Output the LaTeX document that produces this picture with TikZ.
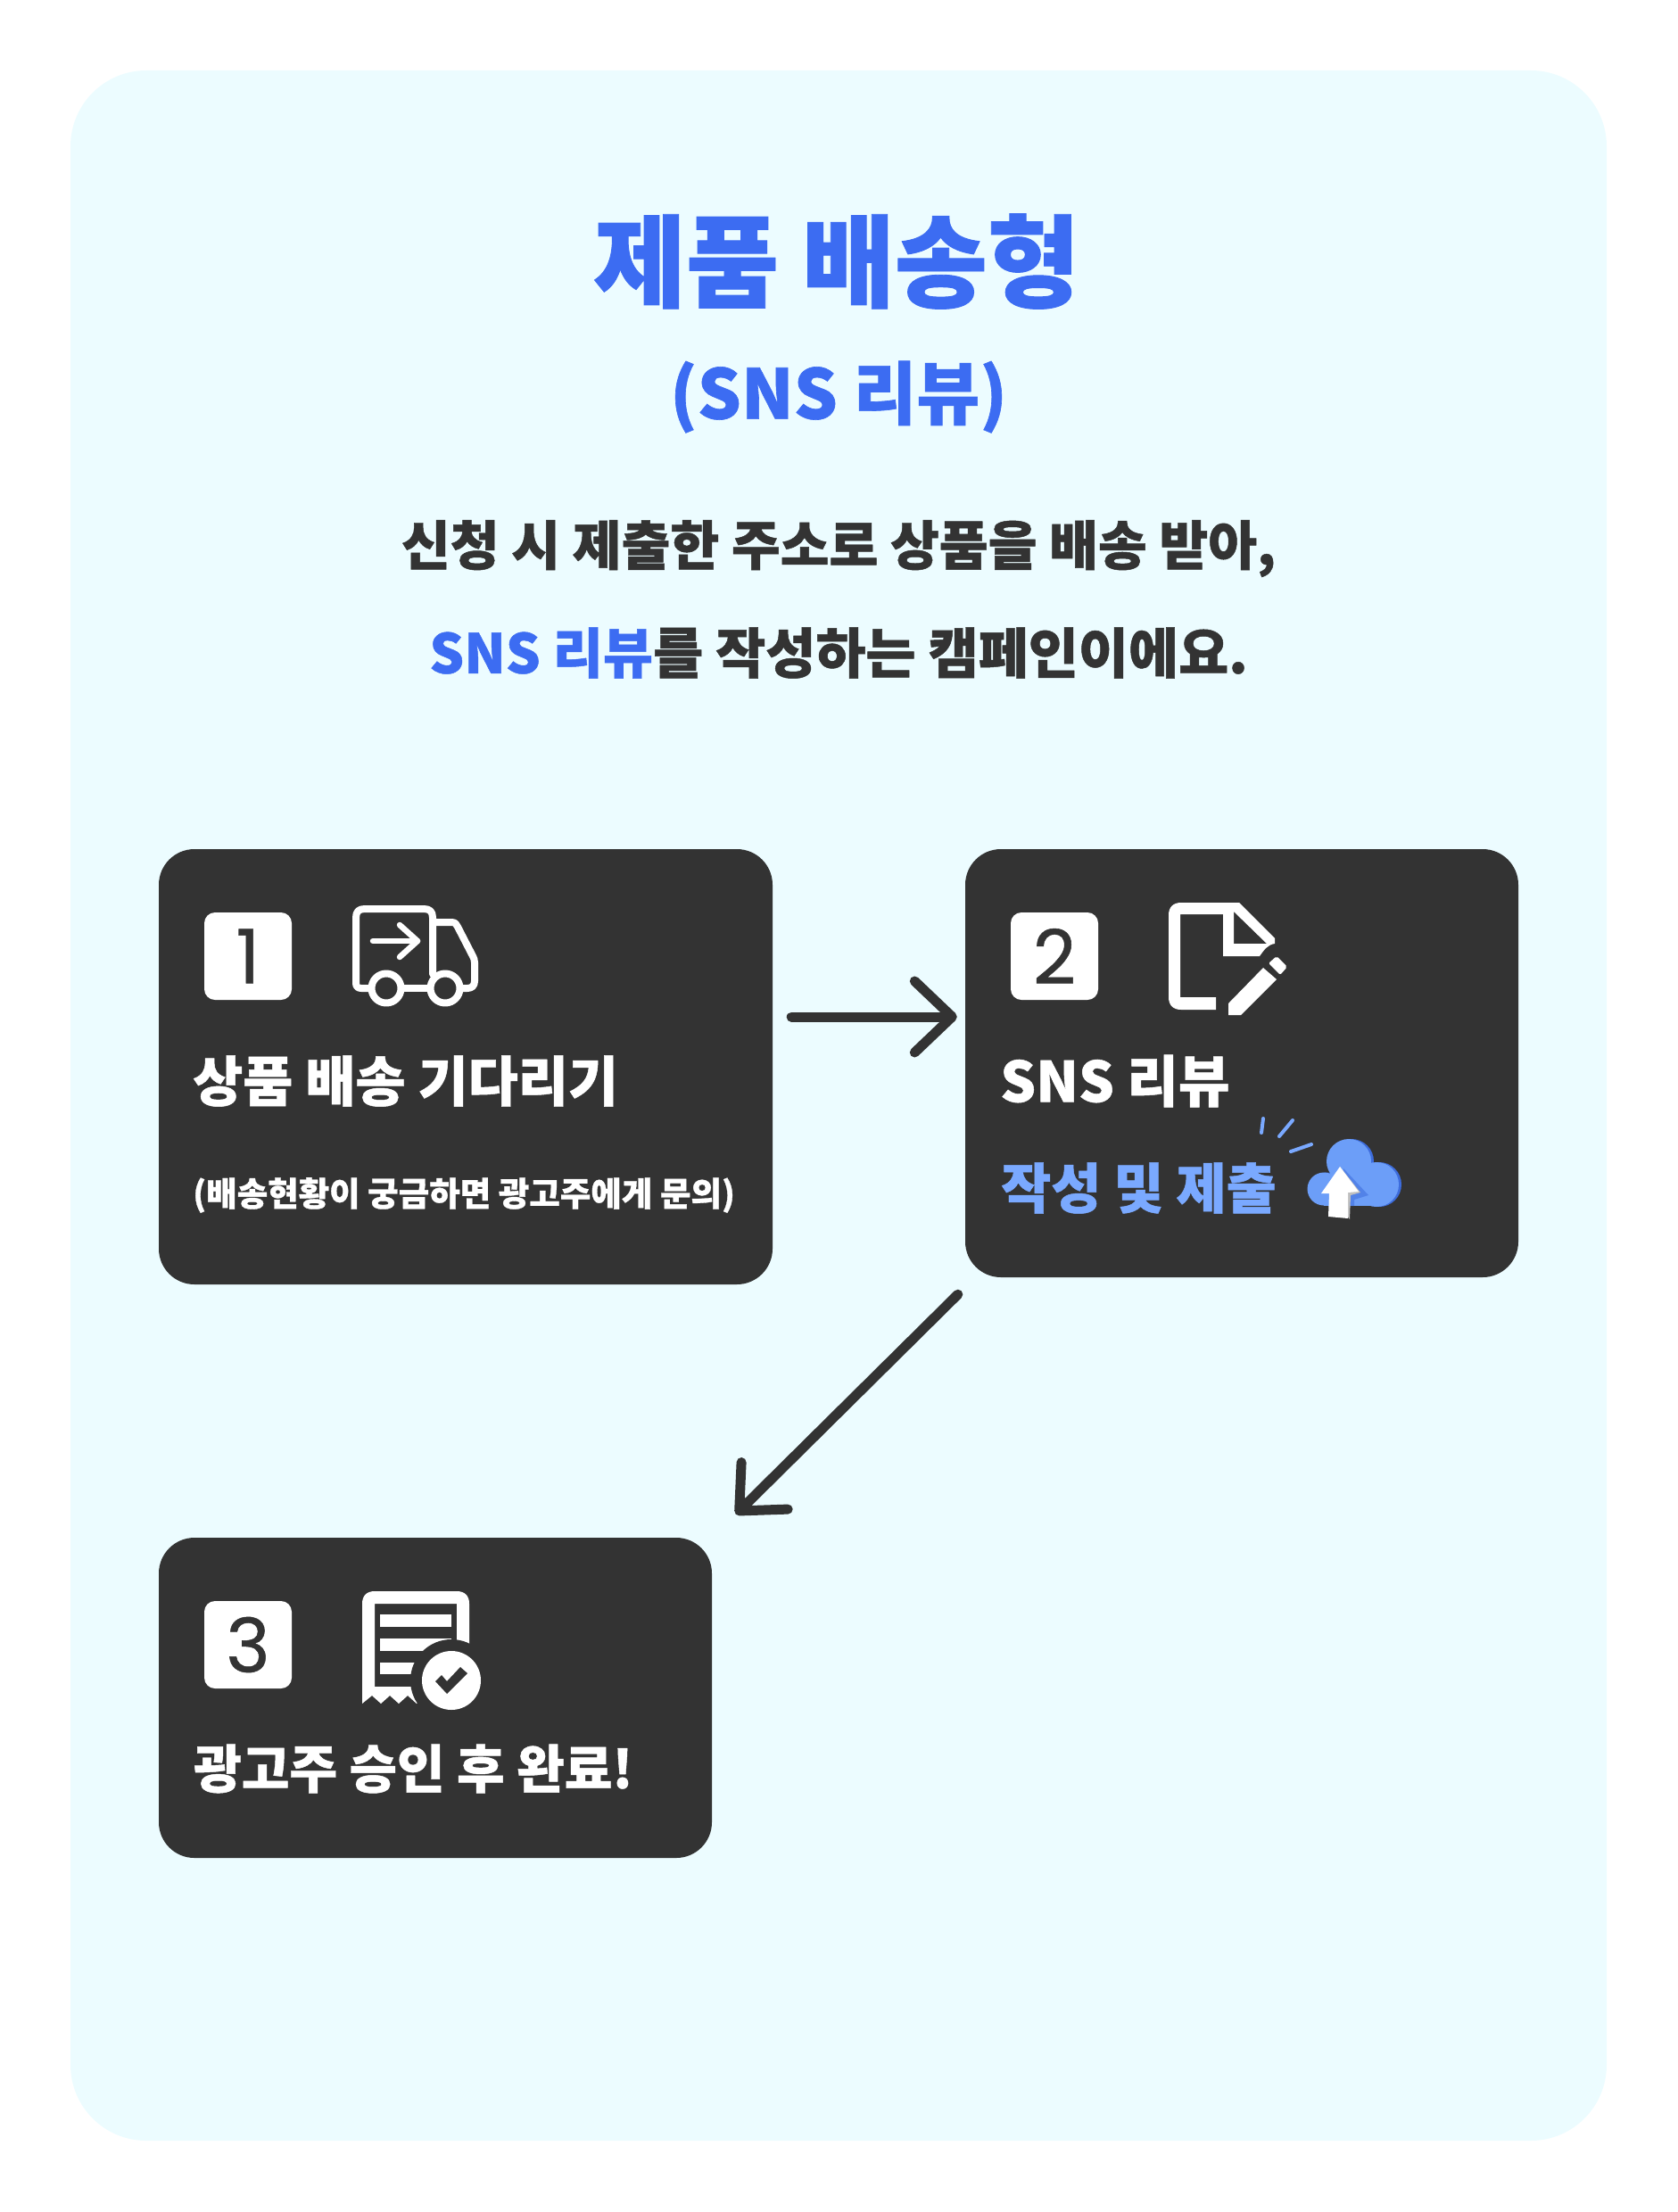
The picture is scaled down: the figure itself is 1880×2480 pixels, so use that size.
\documentclass[tikz,border=0pt]{standalone}
\usepackage{fontspec}
\usetikzlibrary{arrows.meta}
\newfontfamily\krfont[FakeBold=0.8]{Noto Sans CJK KR Black}
\newfontfamily\numfont[FakeBold=0.6]{Poppins}
\definecolor{panelbg}{HTML}{ECFCFF}
\definecolor{cardbg}{HTML}{333333}
\definecolor{titleblue}{HTML}{3C6CF2}
\definecolor{softblue}{HTML}{7AA9FF}
\definecolor{cloudblue}{HTML}{6C9EF8}
\definecolor{clouddark}{HTML}{3D6CDC}
\begin{document}
\begin{tikzpicture}[
        x=1pt, y=-1pt,
        card/.style={rectangle, fill=cardbg, rounded corners=40pt, inner sep=0pt},
        badge/.style={rectangle, fill=white, rounded corners=12pt, minimum size=98pt, inner sep=0pt, text=cardbg, font=\numfont\fontsize{84}{84}\selectfont},
        heading/.style={inner sep=0pt, text=titleblue, font=\krfont},
        bodytext/.style={inner sep=0pt, text=cardbg, font=\krfont\fontsize{60}{60}\selectfont},
        cardtitle/.style={inner sep=0pt, anchor=west, text=white, font=\krfont\fontsize{61}{61}\selectfont},
        flow/.style={draw=cardbg, line width=11pt, line cap=round, -{Straight Barb[length=42pt, width=80pt, round]}},
        iconline/.style={draw=white, line width=8pt, line join=round, line cap=round},
        spark/.style={draw=softblue, line width=4pt, line cap=round}
    ]
    \useasboundingbox (0,0) rectangle (1880,2480);

    \node[fill=panelbg, rounded corners=85pt, minimum width=1722pt, minimum height=2321pt, inner sep=0pt] (panel) at (940,1239.5) {};

    % heading
    \node[heading, font=\krfont\fontsize{113}{113}\selectfont] (title) at (938,293) {제품 배송형};
    \node[heading, font=\krfont\fontsize{77}{77}\selectfont] (subtitle) at (940,445) {(SNS 리뷰)};
    \node[bodytext, font=\krfont\fontsize{59.6}{59.6}\selectfont] (line1) at (940,615) {신청 시 제출한 주소로 상품을 배송 받아,};
    \node[bodytext, font=\krfont\fontsize{61}{61}\selectfont] (line2) at (940,732) {\textcolor{titleblue}{SNS 리뷰}를 작성하는 캠페인이에요.};

    % cards
    \node[card, minimum width=688pt, minimum height=488pt] (card1) at (522,1196) {};
    \node[card, minimum width=620pt, minimum height=480pt] (card2) at (1392,1192) {};
    \node[card, minimum width=620pt, minimum height=359pt] (card3) at (488,1903.5) {};

    \node[badge] (badge1) at (278,1072) {1};
    \node[badge] (badge2) at (1182,1072) {2};
    \node[badge] (badge3) at (278,1844) {3};

    \node[cardtitle] (label1) at (216,1212) {상품 배송 기다리기};
    \node[cardtitle, font=\krfont\fontsize{37.5}{37.5}\selectfont] (note1) at (216,1340) {(배송현황이 궁금하면 광고주에게 문의)};
    \node[cardtitle, font=\krfont\fontsize{62.6}{62.6}\selectfont] (label2) at (1121,1212) {SNS 리뷰};
    \node[cardtitle, text=softblue] (submit2) at (1122,1332) {작성 및 제출};
    \node[cardtitle, font=\krfont\fontsize{58.3}{58.3}\selectfont] (label3) at (217,1983) {광고주 승인 후 완료!};

    % arrows
    \draw[flow] ([shift={(21,-56)}]card1.east) -- ([shift={(-9,-52)}]card2.west);
    \draw[flow, -{Straight Barb[length=40pt, width=74pt, round]}] ([shift={(-8,19)}]card2.south west) -- ([shift={(647,-26)}]card3.north west);

    % truck
    \draw[iconline] (413,1108) -- (405,1108) .. controls (401,1108) and (399,1106) .. (399,1102) -- (399,1029) .. controls (399,1022) and (402,1019) .. (409,1019) -- (475,1019) .. controls (482,1019) and (485,1022) .. (485,1029) -- (485,1092);
    \draw[iconline] (452,1108) -- (480,1108);
    \draw[iconline] (485,1034) -- (506,1034) .. controls (510,1034) and (512,1036) .. (513,1039) -- (530,1072) .. controls (531,1074) and (532,1076) .. (532,1079) -- (532,1100) .. controls (532,1105) and (529,1108) .. (524,1108) -- (519,1108);
    \draw[iconline] (433,1108) circle (16.5);
    \draw[iconline] (499,1108) circle (16.5);
    \draw[iconline, line width=6.5pt] (418,1055) -- (468,1055);
    \draw[iconline, line width=6.5pt] (448,1037) -- (468,1055) -- (448,1073);

    % document and pencil
    \fill[white, even odd rule] (1310,1026) .. controls (1310,1017) and (1315,1012) .. (1324,1012) -- (1389,1012) -- (1429,1052) -- (1429,1058) .. controls (1421,1059) and (1417,1065) .. (1412,1072) -- (1371,1072) -- (1371,1025) -- (1323,1025) -- (1323,1118) -- (1363,1118) -- (1363,1132) -- (1324,1132) .. controls (1315,1132) and (1310,1127) .. (1310,1118) -- cycle
        (1383,1022) -- (1420,1058) -- (1383,1058) -- cycle;
    \fill[white] (1377,1125) -- (1416,1085) -- (1431,1098) -- (1391,1138) -- (1377,1138) -- cycle;
    \fill[white, rounded corners=2pt] (1422,1080) -- (1431,1072) -- (1443,1084) -- (1435,1093) -- cycle;

    % cloud
    \foreach \dx/\shade in {3/clouddark, 0/cloudblue} {
        \fill[\shade] (1512+\dx,1302) circle (25);
        \fill[\shade] (1543+\dx,1328) circle (25);
        \fill[\shade] (1484+\dx,1333) circle (18.5);
        \fill[\shade] (1484+\dx,1325) rectangle (1543+\dx,1352);
    }
    \fill[clouddark, opacity=.55] (1506,1310) -- (1534,1340) -- (1518,1345) -- (1518,1352) -- (1500,1352) -- cycle;
    \fill[gray!50] (1502,1308) -- (1525,1337) -- (1514,1340) -- (1513,1367) -- (1500,1350) -- cycle;
    \fill[white] (1502,1308) -- (1523,1336) -- (1511,1337) -- (1511,1366) -- (1489,1364) -- (1490,1338) -- (1481,1338) -- cycle;
    \draw[spark] (1416,1254) -- (1414,1270);
    \draw[spark] (1449,1256) -- (1434,1274);
    \draw[spark] (1470,1283) -- (1447,1291);

    % receipt
    \fill[white, even odd rule] (406,1910) -- (406,1798) .. controls (406,1789) and (411,1784) .. (420,1784) -- (512,1784) .. controls (521,1784) and (526,1789) .. (526,1798) -- (526,1860) -- (467,1910) -- (457,1901) -- (447,1910) -- (437,1901) -- (427,1910) -- (417,1901) -- cycle
        (420,1798) -- (512,1798) -- (512,1891) -- (420,1891) -- cycle;
    \fill[white] (426,1810) rectangle (506,1824);
    \fill[white] (426,1837) rectangle (506,1851);
    \fill[white] (426,1864) rectangle (506,1877);
    \fill[cardbg] (506,1884) circle (46);
    \fill[white] (506,1884) circle (33);
    \fill[cardbg] (495,1878) -- (488,1885) -- (501,1899) -- (524,1876) -- (516,1869) -- (501,1885) -- cycle;
\end{tikzpicture}
\end{document}
